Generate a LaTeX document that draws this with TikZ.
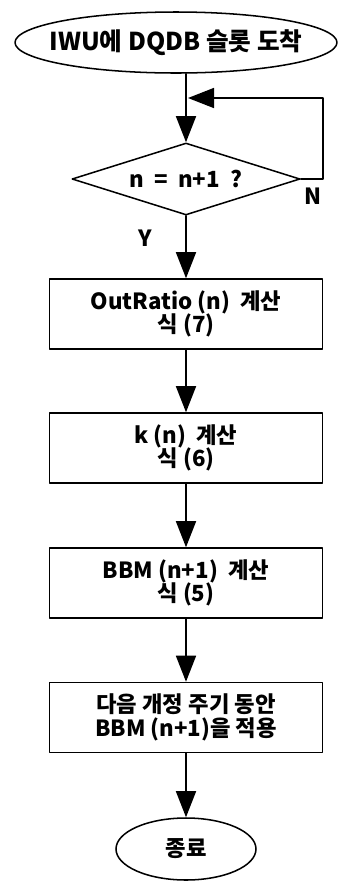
\documentclass[tikz,border=0pt]{standalone}
\usepackage{fontspec}
\setmainfont{Noto Sans CJK KR}
\usetikzlibrary{shapes.geometric,arrows.meta}

\begin{document}
\begin{tikzpicture}[x=0.03cm, y=-0.03cm, font=\fontsize{19}{20}\selectfont\bfseries, line join=round, line cap=round, line width=1.3pt, >={Triangle[length=0.78cm,width=0.6cm]}]
		\tikzset{
			term/.style={ellipse, draw, inner sep=0pt},
			test/.style={diamond, draw, aspect=3.2, inner sep=0pt, minimum width=6.84cm, minimum height=2.16cm},
			proc/.style={rectangle, draw, align=center, minimum width=8.2cm, minimum height=2.1cm}
		}
		\def\xc{186} % truc chinh
		\useasboundingbox (0,0) rectangle (340,882);
		\node[term, minimum width=9.66cm, minimum height=1.83cm, label={[font=\fontsize{21}{22}\selectfont\bfseries]center:IWU에 DQDB 슬롯 도착}] (start) at (176,42.5) {};
		\node[test] (cond) at (\xc,179) {n\ \ =\ \ n+1\ \ ?};
		\node[proc] (ratio) at (\xc,314) {OutRatio (n)\ \ 계산\\식 (7)};
		\node[proc] (kval) at (\xc,448) {k (n)\ \ 계산\\식 (6)};
		\node[proc] (bbm) at (\xc,583) {BBM (n+1)\ \ 계산\\식 (5)};
		\node[proc] (apply) at (\xc,717.5) {다음 개정 주기 동안\\BBM (n+1)을 적용};
		\node[term, minimum width=4.2cm, minimum height=1.86cm] (stop) at (\xc,849) {종료};
		\coordinate (join) at (\xc+2,98);
		\draw[->] (start.south -| cond.north) -- (cond.north);
		\draw[->] (cond.east) -- ++(22,0) |- (join);
		\draw[->] (cond.south) -- (ratio.north);
		\draw[->] (ratio) -- (kval);
		\draw[->] (kval) -- (bbm);
		\draw[->] (bbm) -- (apply);
		\draw[->] (apply) -- (stop);
		\node (yes) at (145,238) {Y};
		\node (no) at (313,196) {N};
		\end{tikzpicture}
\end{document}
